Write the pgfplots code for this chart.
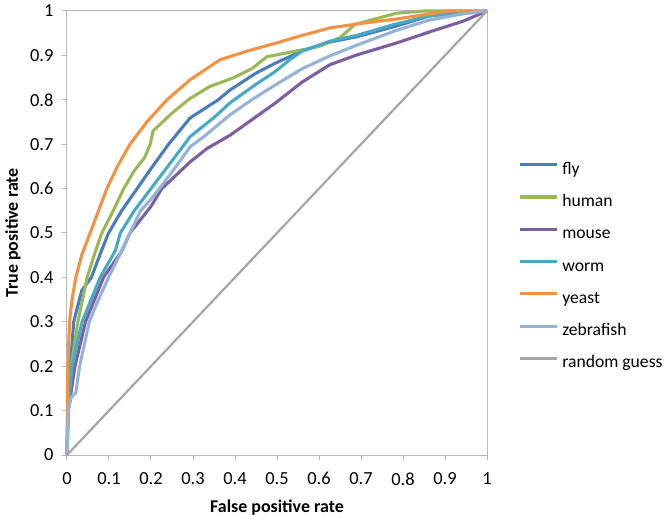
\documentclass[border=0pt]{standalone}
\usepackage{pgfplots}
\pgfplotsset{compat=1.18}
\usepackage{fontspec}
\setmainfont{Carlito}
\definecolor{cfly}{HTML}{4A7EBB}
\definecolor{chuman}{HTML}{98B954}
\definecolor{cmouse}{HTML}{7D5FA0}
\definecolor{cworm}{HTML}{46AAC5}
\definecolor{cyeast}{HTML}{F39243}
\definecolor{czebra}{HTML}{95B3D7}
\definecolor{crand}{HTML}{A5A5A5}
\definecolor{caxis}{HTML}{B8B8B8}
\tikzset{roc/.style={line width=3.1bp, line join=round}}
\begin{document}
\begin{tikzpicture}
\begin{axis}[
  scale only axis, width=420bp, height=444bp,
  xmin=0, xmax=1, ymin=0, ymax=1,
  clip=false,
  axis line style={caxis, line width=1bp},
  tick style={caxis, line width=1bp},
  tick align=outside, major tick length=5bp,
  tick pos=left,
  xtick={0,0.1,...,1}, ytick={0,0.1,...,1},
  xticklabels={0,0.1,0.2,0.3,0.4,0.5,0.6,0.7,0.8,0.9,1},
  yticklabels={0,0.1,0.2,0.3,0.4,0.5,0.6,0.7,0.8,0.9,1},
  /pgf/number format/assume math mode=true,
  ticklabel style={font=\fontsize{18.5}{22}\selectfont},
  xticklabel style={yshift=-9bp},
  yticklabel style={xshift=-5bp},
  xlabel={\textbf{False positive rate}},
  ylabel={\textbf{True positive rate}},
  label style={font=\fontsize{18}{22}\selectfont},
  xlabel style={at={(axis description cs:0.5,-0.118)}, anchor=center},
  ylabel style={at={(axis description cs:-0.1286,0.5)}, anchor=center, rotate=0},
  legend cell align=left,
  legend style={at={(axis description cs:1.0738,0.66)}, anchor=north west,
    draw=none, fill=none, inner sep=0pt, row sep=16.3bp, column sep=4bp,
    font=\fontsize{17.7}{21}\selectfont,
    nodes={inner sep=0pt, text height=12bp, text depth=4bp}},
  legend image code/.code={\draw[#1] (0bp,5.5bp) -- (37bp,5.5bp);},
]
\addplot[cfly, roc] coordinates {
(0,0) (0.002,0.1) (0.008,0.2) (0.016,0.3) (0.035,0.37) (0.058,0.4) (0.082,0.46)
(0.099,0.5) (0.13,0.55) (0.167,0.6) (0.2,0.645) (0.242,0.7) (0.293,0.759)
(0.36,0.8) (0.388,0.822) (0.45,0.86) (0.495,0.882) (0.56,0.91) (0.626,0.93)
(0.69,0.942) (0.78,0.965) (0.864,0.989) (0.93,0.995) (1,1)};
\addlegendentry{fly}
\addplot[chuman, roc] coordinates {
(0,0) (0.002,0.1) (0.01,0.2) (0.026,0.3) (0.048,0.4) (0.068,0.46) (0.083,0.5)
(0.11,0.55) (0.135,0.6) (0.16,0.64) (0.185,0.67) (0.198,0.7) (0.205,0.73)
(0.25,0.77) (0.293,0.803) (0.34,0.83) (0.395,0.849) (0.44,0.87) (0.476,0.897)
(0.52,0.905) (0.6,0.92) (0.65,0.94) (0.686,0.97) (0.785,0.995) (0.85,1) (1,1)};
\addlegendentry{human}
\addplot[cmouse, roc] coordinates {
(0,0) (0.003,0.1) (0.019,0.2) (0.044,0.3) (0.087,0.4) (0.131,0.46) (0.15,0.5)
(0.2,0.56) (0.226,0.6) (0.293,0.66) (0.333,0.69) (0.388,0.72) (0.495,0.792)
(0.56,0.84) (0.626,0.879) (0.69,0.901) (0.785,0.928) (0.87,0.955) (0.943,0.977) (1,1)};
\addlegendentry{mouse}
\addplot[cworm, roc] coordinates {
(0,0) (0.003,0.1) (0.012,0.2) (0.036,0.3) (0.079,0.4) (0.115,0.46) (0.127,0.5)
(0.16,0.55) (0.2,0.6) (0.24,0.65) (0.28,0.7) (0.293,0.717) (0.35,0.76)
(0.388,0.793) (0.45,0.835) (0.495,0.863) (0.53,0.89) (0.56,0.91) (0.626,0.932)
(0.69,0.945) (0.78,0.97) (0.864,0.989) (0.95,0.998) (1,1)};
\addlegendentry{worm}
\addplot[cyeast, roc] coordinates {
(0,0) (0.001,0.12) (0.002,0.2) (0.006,0.3) (0.012,0.35) (0.021,0.4) (0.035,0.45)
(0.055,0.5) (0.075,0.55) (0.095,0.6) (0.12,0.65) (0.15,0.7) (0.19,0.75)
(0.238,0.8) (0.293,0.845) (0.364,0.89) (0.43,0.91) (0.495,0.927) (0.56,0.945)
(0.626,0.962) (0.7,0.972) (0.785,0.982) (0.86,0.993) (0.91,1) (1,1)};
\addlegendentry{yeast}
\addplot[czebra, roc] coordinates {
(0,0) (0.003,0.1) (0.01,0.13) (0.021,0.14) (0.03,0.2) (0.053,0.3) (0.075,0.35)
(0.099,0.4) (0.125,0.45) (0.15,0.5) (0.175,0.55) (0.198,0.574) (0.22,0.6)
(0.26,0.65) (0.293,0.694) (0.33,0.72) (0.388,0.766) (0.44,0.8) (0.495,0.833)
(0.56,0.87) (0.626,0.899) (0.69,0.923) (0.78,0.955) (0.864,0.98) (0.94,0.993) (1,1)};
\addlegendentry{zebrafish}
\addplot[crand, line width=2.2bp] coordinates {(0,0) (1,1)};
\addlegendentry{random guess}
\end{axis}
\pgfresetboundingbox
\path[use as bounding box] (-67bp,-64bp) rectangle (598bp,455bp);
\end{tikzpicture}
\end{document}
